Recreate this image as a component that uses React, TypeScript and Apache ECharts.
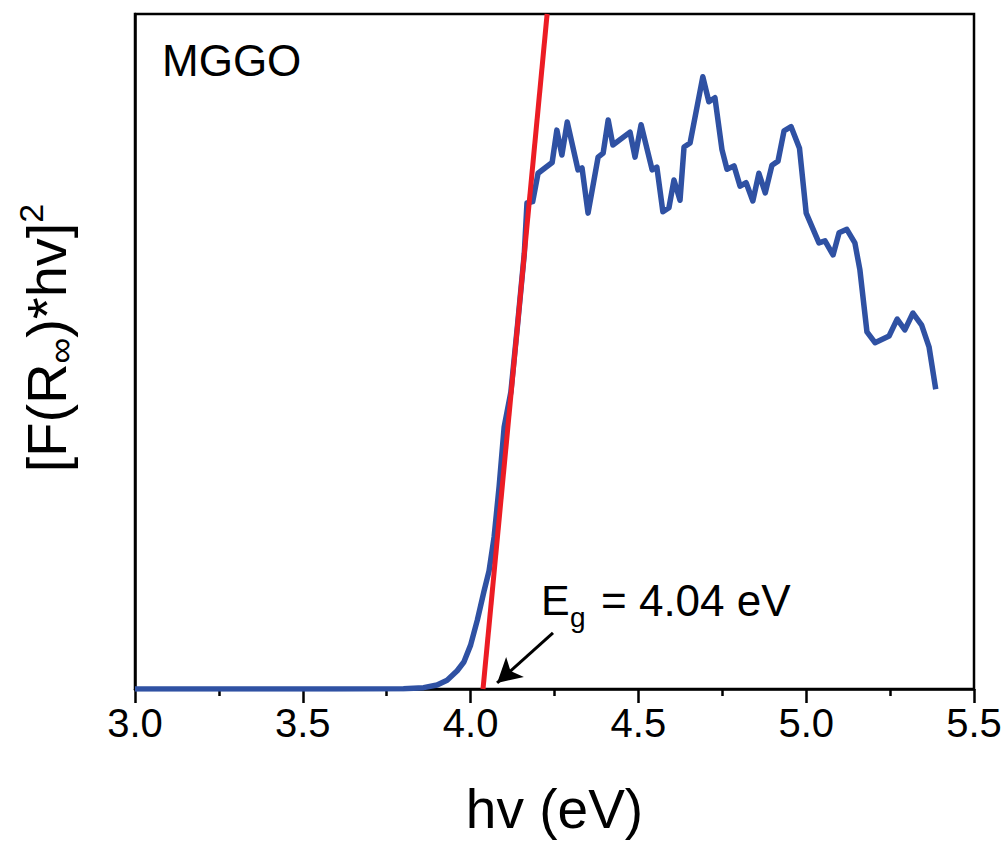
import React, { useEffect, useRef } from "react";
import * as echarts from "echarts";

const hvValues = [3.0, 3.3, 3.6, 3.8, 3.86, 3.9, 3.93, 3.96, 3.98, 4.0, 4.02, 4.04, 4.055, 4.07, 4.085, 4.1, 4.12, 4.14, 4.16, 4.168, 4.185, 4.201, 4.243, 4.257, 4.272, 4.288, 4.32, 4.332, 4.35, 4.38, 4.395, 4.41, 4.424, 4.475, 4.49, 4.508, 4.541, 4.555, 4.573, 4.591, 4.606, 4.624, 4.636, 4.654, 4.692, 4.71, 4.728, 4.749, 4.764, 4.785, 4.803, 4.821, 4.841, 4.859, 4.878, 4.898, 4.916, 4.934, 4.955, 4.98, 5.0, 5.038, 5.056, 5.08, 5.098, 5.121, 5.145, 5.16, 5.181, 5.205, 5.247, 5.271, 5.294, 5.318, 5.344, 5.366, 5.386];
const kmValues = [0, 0, 0, 0.05, 0.2, 0.6, 1.3, 2.7, 4.0, 6.5, 10.2, 14.5, 17.5, 22.5, 30, 38.8, 44, 54, 64.5, 72, 72.2, 76.4, 78, 82.8, 79.1, 84, 76.9, 77.2, 70.5, 78.8, 79.4, 84.3, 80.6, 82.5, 78.8, 83.6, 76.9, 77.3, 70.7, 71.3, 75.4, 72.4, 80.3, 80.9, 90.7, 87, 87.6, 79.9, 77, 77.5, 74.5, 75, 72.3, 76.4, 73.5, 77.6, 78.2, 82.7, 83.3, 80.1, 70.5, 66.1, 66.4, 64.3, 67.6, 68.1, 66.1, 62.1, 52.9, 51.3, 52.3, 54.8, 53.2, 55.7, 53.9, 50.7, 44.4];

const fitHv = [4.037, 4.228];
const fitKm = [0, 100];

const arrowFrom = [4.2455, 8.3];
const arrowTo = [4.079, 0.9];

const xTicks = { min: 3.0, max: 5.5, interval: 0.5 };

const FONT = "'Liberation Sans', Arial, sans-serif";

export default function App() {
  const ref = useRef<HTMLDivElement>(null);
  useEffect(() => {
    if (!ref.current) return;
    const chart = echarts.init(ref.current, null, { renderer: "svg" });
    const curve = hvValues.map((x, i) => [x, kmValues[i]]);
    const fit = fitHv.map((x, i) => [x, fitKm[i]]);
    chart.setOption({
      animation: false,
      backgroundColor: "#fff",
      grid: {
        left: 135,
        right: 34,
        top: 14,
        bottom: 154,
        containLabel: false,
        outerBoundsMode: "none",
        show: true,
        borderColor: "#000",
        borderWidth: 2.5,
      },
      xAxis: {
        type: "value",
        min: xTicks.min,
        max: xTicks.max,
        interval: xTicks.interval,
        name: "hv (eV)",
        nameLocation: "middle",
        nameGap: 92,
        nameTextStyle: { fontSize: 55, color: "#000", fontFamily: FONT },
        axisLine: { show: true, onZero: false, lineStyle: { color: "#000", width: 2.5 } },
        axisTick: { show: true, inside: false, length: 14, lineStyle: { color: "#000", width: 2.5 } },
        minorTick: { show: true, splitNumber: 2, length: 7, lineStyle: { color: "#000", width: 2.5 } },
        splitLine: { show: false },
        axisLabel: {
          fontSize: 40,
          color: "#000",
          fontFamily: FONT,
          margin: 14,
          formatter: (v: number) => v.toFixed(1),
        },
      },
      yAxis: {
        type: "value",
        min: 0,
        max: 100,
        axisLine: { show: true, lineStyle: { color: "#000", width: 2.5 } },
        axisTick: { show: false },
        axisLabel: { show: false },
        splitLine: { show: false },
      },
      series: [
        {
          type: "line",
          data: curve,
          showSymbol: false,
          symbol: "none",
          z: 3,
          lineStyle: { color: "#2f51a3", width: 5.5, join: "round" },
        },
        {
          type: "line",
          data: fit,
          showSymbol: false,
          symbol: "none",
          z: 4,
          clip: true,
          lineStyle: { color: "#ec1c24", width: 5 },
          markLine: {
            silent: true,
            symbol: ["none", "arrow"],
            symbolSize: [20, 24],
            label: { show: false },
            lineStyle: { color: "#000", width: 3, type: "solid" },
            data: [[{ coord: arrowFrom }, { coord: arrowTo }]],
          },
        },
      ],
      graphic: [
        {
          type: "text",
          x: 162,
          y: 60,
          style: { text: "MGGO", fontSize: 44, fill: "#000", fontFamily: FONT, verticalAlign: "middle", align: "left" },
        },
        {
          type: "text",
          x: 541,
          y: 600,
          style: { text: "E", fontSize: 43, fill: "#000", fontFamily: FONT, verticalAlign: "middle", align: "left" },
        },
        {
          type: "text",
          x: 570,
          y: 617,
          style: { text: "g", fontSize: 28, fill: "#000", fontFamily: FONT, verticalAlign: "middle", align: "left" },
        },
        {
          type: "text",
          x: 601,
          y: 600,
          style: { text: "= 4.04 eV", fontSize: 44, fill: "#000", fontFamily: FONT, verticalAlign: "middle", align: "left" },
        },
        {
          type: "text",
          x: 46,
          y: 338,
          rotation: Math.PI / 2,
          style: {
            text: "{a|[F(R}{s|∞}{a|)*hv]}{p|2}",
            align: "center",
            verticalAlign: "middle",
            fill: "#000",
            rich: {
              a: { fontSize: 56, fontFamily: FONT, lineHeight: 64, fill: "#000" },
              s: { fontSize: 36, fontFamily: FONT, lineHeight: 38, verticalAlign: "bottom", fill: "#000" },
              p: { fontSize: 34, fontFamily: FONT, lineHeight: 34, verticalAlign: "top", fill: "#000" },
            },
          },
        },
      ],
    });
    return () => chart.dispose();
  }, []);
  return <div ref={ref} style={{ width: 1008, height: 843, position: "absolute", left: 0, top: 0 }} />;
}
